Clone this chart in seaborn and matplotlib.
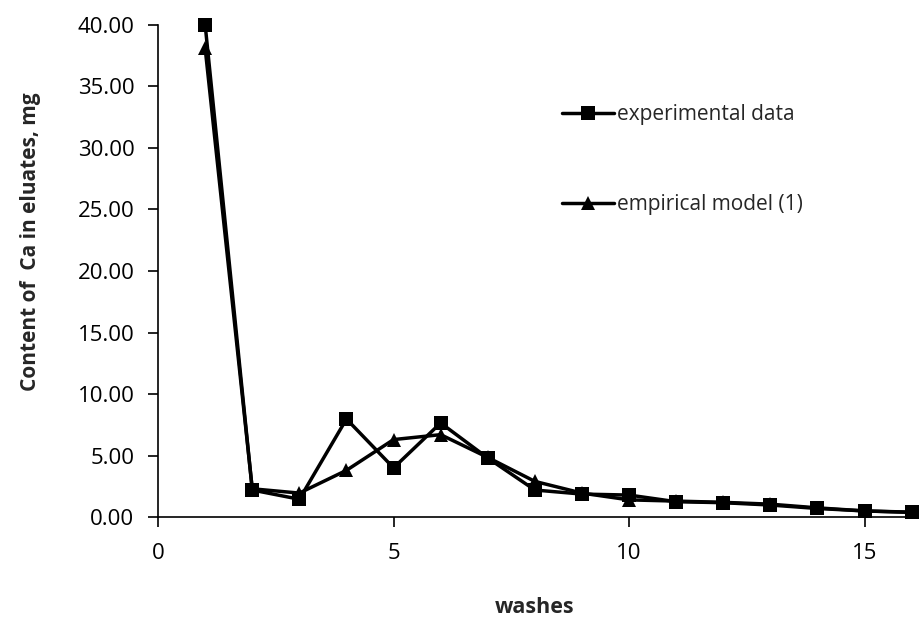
import matplotlib
matplotlib.use("Agg")
import matplotlib.pyplot as plt
import seaborn as sns
import pandas as pd

washes = list(range(1, 17))
experimental = [40.0, 2.2, 1.45, 7.97, 4.0, 7.65, 4.8, 2.2, 1.87, 1.79, 1.25, 1.17, 0.98, 0.7, 0.5, 0.4]
model = [38.1, 2.3, 1.95, 3.8, 6.3, 6.7, 4.85, 2.9, 1.95, 1.4, 1.3, 1.2, 1.05, 0.75, 0.5, 0.38]
series_names = ["experimental data", "empirical model (1)"]

df = pd.DataFrame({
    "washes": washes * 2,
    "value": experimental + model,
    "series": [series_names[0]] * len(washes) + [series_names[1]] * len(washes),
})

sns.set_theme(style="white")
plt.rcParams["font.family"] = ["Open Sans", "DejaVu Sans"]

fig = plt.figure(figsize=(9.19, 6.23), dpi=100)
ax = fig.add_axes([0.172, 0.170, 0.820, 0.790])

sns.lineplot(data=df, x="washes", y="value", hue="series", style="series",
             palette={series_names[0]: "black", series_names[1]: "black"},
             markers={series_names[0]: "s", series_names[1]: "^"},
             dashes=False, linewidth=2.5, markersize=10.5, markeredgewidth=0,
             ax=ax)
for ln in ax.get_lines():
    ln.set_clip_on(False)

ax.set_xlim(0, 16)
ax.set_ylim(0, 40)
ax.set_xticks([0, 5, 10, 15])
ax.set_yticks(range(0, 41, 5))
ax.set_yticklabels([f"{v:.2f}" for v in range(0, 41, 5)])
ax.tick_params(axis="both", which="both", direction="out", length=7, width=1.2,
               labelsize=16, colors="black", bottom=True, left=True)
ax.tick_params(axis="y", pad=10)
ax.tick_params(axis="x", pad=12)
for s in ["top", "right"]:
    ax.spines[s].set_visible(False)
for s in ["left", "bottom"]:
    ax.spines[s].set_color("black")
    ax.spines[s].set_linewidth(1.2)

ax.set_xlabel("washes", fontsize=15.5, fontweight="bold")
ax.xaxis.set_label_coords(0.5, -0.163)
ax.set_ylabel("Content of  Ca in eluates, mg", fontsize=15, fontweight="bold")
ax.yaxis.set_label_coords(-0.156, 0.56)

leg = ax.legend(loc="upper left", bbox_to_anchor=(0.522, 0.86), frameon=False,
                fontsize=15, labelspacing=3.3, handlelength=2.5, handletextpad=0.15,
                borderpad=0, title=None)

fig.savefig("out.png", dpi=100)
